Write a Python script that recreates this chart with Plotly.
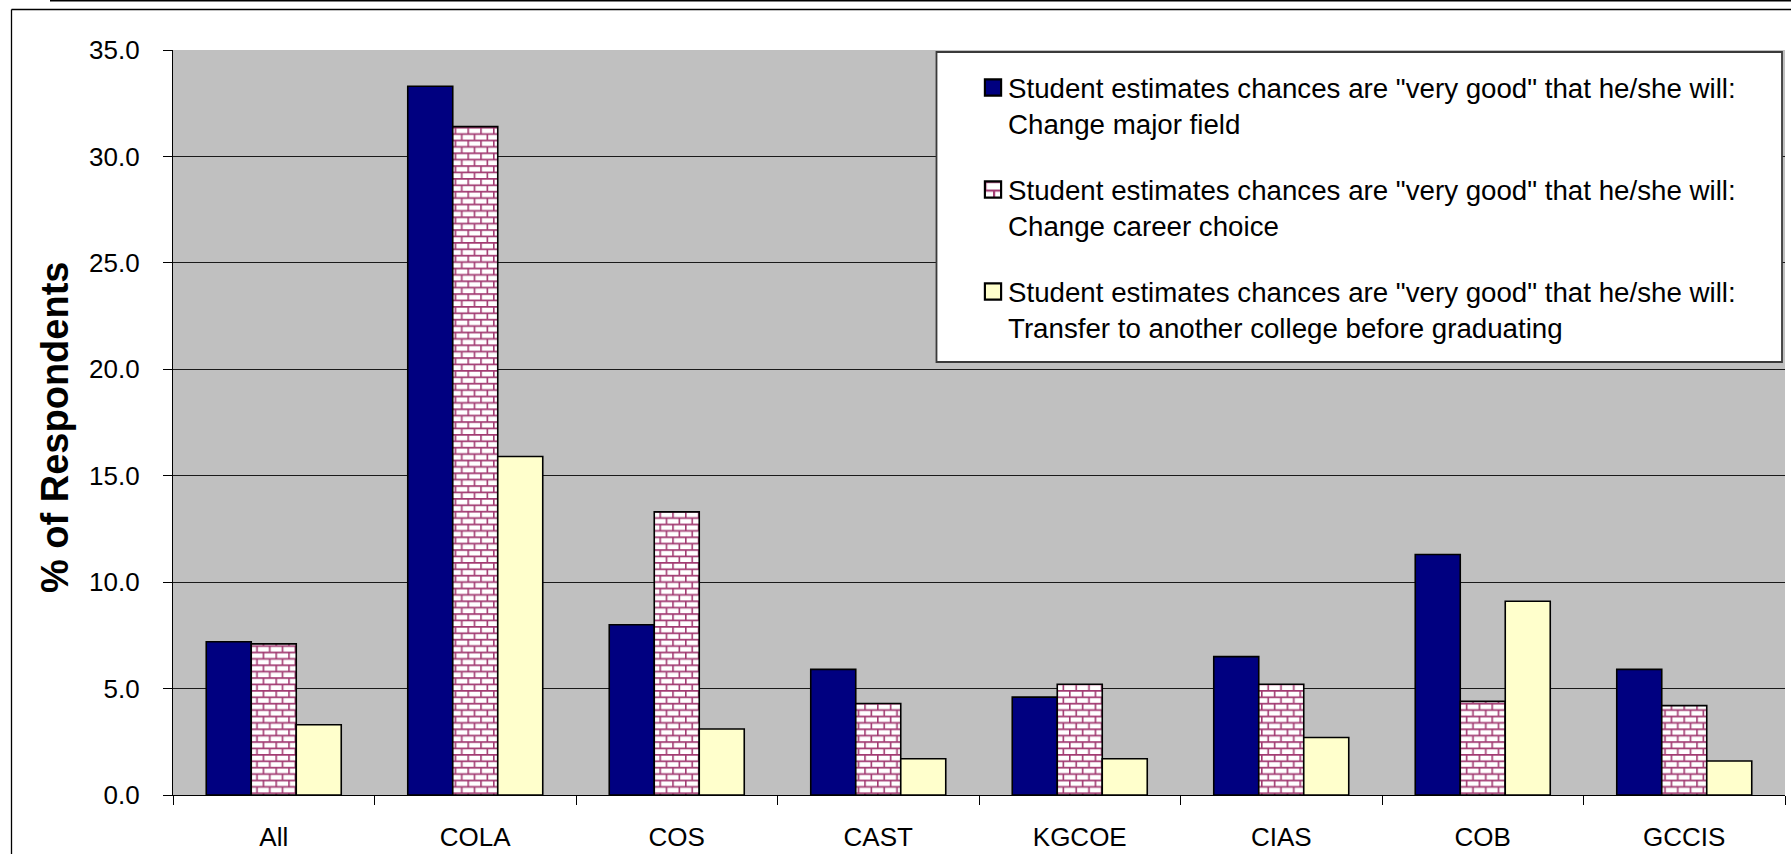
import plotly.graph_objects as go

# ---- data -------------------------------------------------------------
colleges = ["All", "COLA", "COS", "CAST", "KGCOE", "CIAS", "COB", "GCCIS"]

change_major = [7.2, 33.3, 8.0, 5.9, 4.6, 6.5, 11.3, 5.9]
change_career = [7.1, 31.4, 13.3, 4.3, 5.2, 5.2, 4.4, 4.2]
transfer_college = [3.3, 15.9, 3.1, 1.7, 1.7, 2.7, 9.1, 1.6]

series_names = [
    'Student estimates chances are "very good" that he/she will:<br>Change major field',
    'Student estimates chances are "very good" that he/she will:<br>Change career choice',
    'Student estimates chances are "very good" that he/she will:<br>Transfer to another college before graduating',
]

y_ticks = [0, 5, 10, 15, 20, 25, 30, 35]

# ---- layout geometry ---------------------------------------------------
W, H = 1791, 854
M_L, M_R, M_T, M_B = 173, 6, 50, 59
PW = W - M_L - M_R
PH = H - M_T - M_B
FONT = "Liberation Sans, Arial, sans-serif"


def px_x(px):
    return (px - M_L) / PW


def px_y(py):
    return (H - M_B - py) / PH


fig = go.Figure()

fig.add_trace(go.Bar(
    x=colleges, y=change_major, name=series_names[0], legendgroup="a",
    marker=dict(color="#000080", line=dict(color="#000000", width=1.6)),
))
fig.add_trace(go.Bar(
    x=colleges, y=change_career, name=series_names[1], legendgroup="b",
    marker=dict(color="#FFFFFF", line=dict(color="#000000", width=1.6),
                pattern=dict(shape="+", fgcolor="#A23B72", bgcolor="#FFFFFF",
                             size=6.4, solidity=0.25)),
))
fig.add_trace(go.Bar(
    x=colleges, y=transfer_college, name=series_names[2], legendgroup="c",
    marker=dict(color="#FFFFCC", line=dict(color="#000000", width=1.6)),
))

shapes = [
    # rule across the top of the page
    dict(type="line", xref="paper", yref="paper",
         x0=px_x(50), x1=px_x(W + 5), y0=px_y(0.8), y1=px_y(0.8),
         line=dict(color="#000000", width=1.6)),
    # chart frame (left and top edges)
    dict(type="line", xref="paper", yref="paper",
         x0=px_x(11.5), x1=px_x(11.5), y0=px_y(9.5), y1=px_y(H + 5),
         line=dict(color="#000000", width=1.3)),
    dict(type="line", xref="paper", yref="paper",
         x0=px_x(11.5), x1=px_x(W + 5), y0=px_y(9.5), y1=px_y(9.5),
         line=dict(color="#000000", width=1.3)),
    # legend box
    dict(type="rect", xref="paper", yref="paper", layer="above",
         x0=px_x(936.5), x1=px_x(1782), y0=px_y(362), y1=px_y(52),
         fillcolor="#FFFFFF", line=dict(color="#3A3A3A", width=1.8)),
]

annotations = [
    dict(text="<b>% of Respondents</b>", textangle=-90,
         xref="paper", yref="paper", x=px_x(55), y=px_y(428),
         xanchor="center", yanchor="middle", showarrow=False,
         font=dict(family=FONT, size=38, color="#000000")),
]

fig.update_layout(
    width=W, height=H,
    margin=dict(l=M_L, r=M_R, t=M_T, b=M_B, autoexpand=False),
    paper_bgcolor="#FFFFFF",
    plot_bgcolor="#C0C0C0",
    barmode="group",
    bargap=0.33,
    bargroupgap=0,
    font=dict(family=FONT, color="#000000"),
    shapes=shapes,
    annotations=annotations,
    showlegend=True,
    legend=dict(
        x=px_x(968), y=px_y(63), xanchor="left", yanchor="top",
        bgcolor="rgba(0,0,0,0)", borderwidth=0,
        font=dict(family=FONT, size=27.7, color="#000000"),
        valign="top", tracegroupgap=27, traceorder="grouped",
    ),
    xaxis=dict(
        type="category", tickson="boundaries", automargin=False,
        ticks="outside", ticklen=9, tickcolor="#000000", tickwidth=1,
        showline=True, linecolor="#000000", linewidth=1.3,
        showgrid=False, zeroline=False,
        tickfont=dict(family=FONT, size=26, color="#000000"),
        ticklabelstandoff=19,
    ),
    yaxis=dict(
        range=[0, 35], tickvals=y_ticks, tickformat=".1f", automargin=False,
        ticks="outside", ticklen=9, tickcolor="#000000", tickwidth=1,
        showline=True, linecolor="#000000", linewidth=1.3,
        showgrid=True, gridcolor="#1A1A1A", gridwidth=1,
        zeroline=False,
        tickfont=dict(family=FONT, size=26, color="#000000"),
        ticklabelstandoff=18,
    ),
)

# Brick fill for the "career choice" bars, and larger legend swatches.
brick_js = """
var gd = document.getElementById('{plot_id}');
var ns = 'http://www.w3.org/2000/svg';
var svg = gd.querySelector('svg.main-svg');
var defs = svg.querySelector('defs');
if (!defs) { defs = document.createElementNS(ns, 'defs'); svg.insertBefore(defs, svg.firstChild); }
var pat = document.createElementNS(ns, 'pattern');
pat.setAttribute('id', 'brickfill');
pat.setAttribute('patternUnits', 'userSpaceOnUse');
pat.setAttribute('width', '12.8');
pat.setAttribute('height', '12.8');
var bg = document.createElementNS(ns, 'rect');
bg.setAttribute('width', '12.8'); bg.setAttribute('height', '12.8');
bg.setAttribute('fill', '#FFFFFF');
pat.appendChild(bg);
var ln = document.createElementNS(ns, 'path');
ln.setAttribute('d', 'M0,0.8H12.8M0,7.2H12.8M0.8,0V6.4M7.2,6.4V12.8');
ln.setAttribute('stroke', '#A23B72');
ln.setAttribute('stroke-width', '1.6');
ln.setAttribute('fill', 'none');
pat.appendChild(ln);
defs.appendChild(pat);
var bars = gd.querySelectorAll('.barlayer .trace');
if (bars.length > 1) {
  bars[1].querySelectorAll('.point path').forEach(function (el) { el.style.fill = 'url(#brickfill)'; });
}
var leg = gd.querySelectorAll('.legend .traces');
leg.forEach(function (tr, i) {
  tr.querySelectorAll('.legendpoints path').forEach(function (el) {
    var t = el.getAttribute('transform') || '';
    el.setAttribute('transform', t + ' translate(5,0) scale(1.35)');
    if (i === 1) { el.style.fill = 'url(#brickfill)'; }
  });
});
"""

fig.write_html("out.html", post_script=brick_js)
